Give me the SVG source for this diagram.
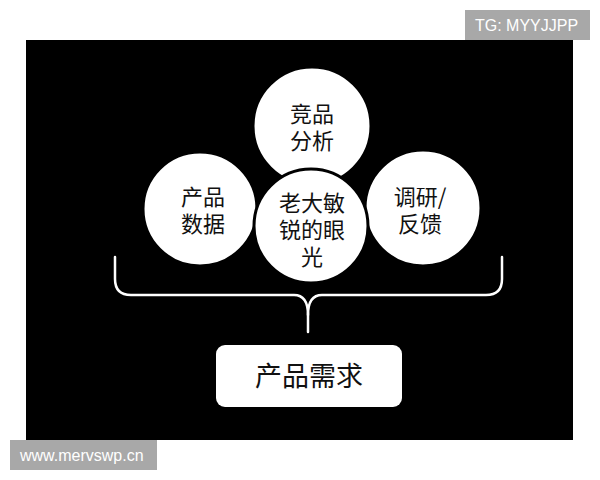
<svg xmlns="http://www.w3.org/2000/svg" width="600" height="480" viewBox="0 0 600 480">
<style>
.c{fill:#fff;stroke:#000;stroke-width:3}
.t{font-family:"Noto Sans CJK SC","Noto Sans",sans-serif;font-size:22px;fill:#111;text-anchor:middle}
.w{font-family:"Liberation Sans",Arial,sans-serif;font-size:16px;fill:#fff}
.tag{fill:#a8a8a8}
</style>
<rect x="0" y="0" width="600" height="480" fill="#fff"/>
<rect x="26" y="40" width="547" height="400" fill="#000"/>
<g id="tag-tg"><rect class="tag" x="465" y="10" width="125" height="30"/><text class="w" x="475" y="31">TG: MYYJJPP</text></g>
<g id="tag-www"><rect class="tag" x="10" y="440" width="147" height="30"/><text class="w" x="20" y="461">www.mervswp.cn</text></g>
<g id="node-top"><circle class="c" cx="312" cy="126" r="59"/><text class="t" x="312" y="122">竞品<tspan x="312" dy="27">分析</tspan></text></g>
<g id="node-left"><circle class="c" cx="200" cy="209" r="57"/><text class="t" x="203" y="205">产品<tspan x="203" dy="27">数据</tspan></text></g>
<g id="node-right"><circle class="c" cx="423" cy="208" r="58"/><text class="t" x="420" y="205">调研/<tspan x="420" dy="27">反馈</tspan></text></g>
<g id="node-center"><circle class="c" cx="311" cy="226" r="57"/><text class="t" x="312" y="211">老大敏<tspan x="312" dy="27">锐的眼</tspan><tspan x="312" dy="27">光</tspan></text></g>
<g id="connectors" fill="none" stroke="#fff" stroke-width="2.5" stroke-linecap="round">
<path d="M115,257 L115,279 Q115,295 131,295 L294,295 Q308,295 308,315 L308,332"/>
<path d="M502,257 L502,279 Q502,295 486,295 L322,295 Q308,295 308,315"/>
</g>
<g id="node-demand"><rect x="216" y="345" width="186" height="62" rx="9" fill="#fff"/><text class="t" x="309" y="386" style="font-size:27px">产品需求</text></g>
</svg>
